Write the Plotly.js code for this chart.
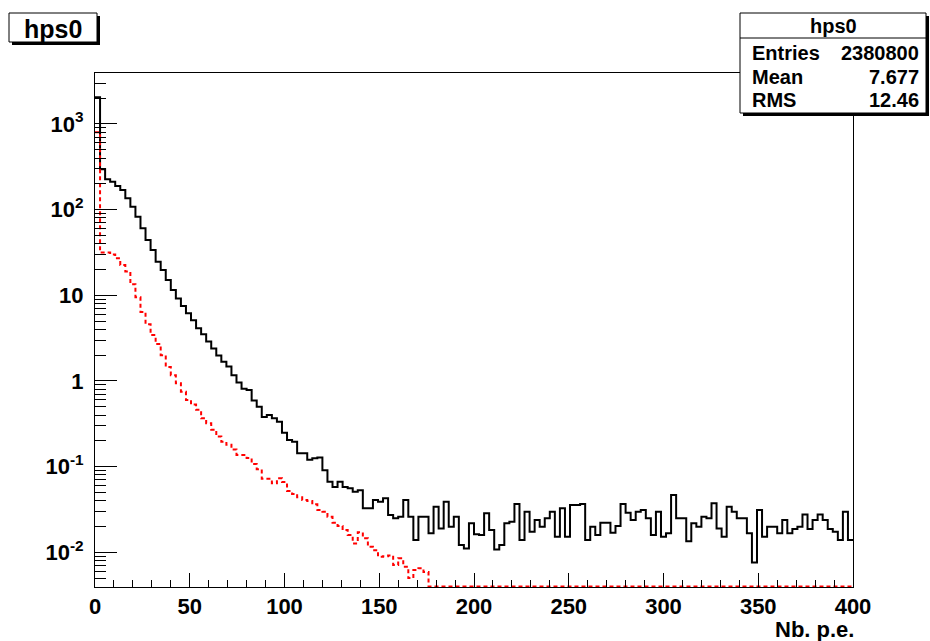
<!DOCTYPE html>
<html>
<head>
<meta charset="utf-8">
<script src="https://cdn.plot.ly/plotly-3.0.1.min.js"></script>
<style>
html,body{margin:0;padding:0;background:#ffffff;}
#chart{width:930px;height:641px;}
</style>
</head>
<body>
<div id="chart"></div>
<script>
// ---------------- data ----------------
const histName = 'hps0';
const xAxisTitle = 'Nb. p.e.';
const nBins = 150;
const xMin = 0;
const xMax = 400;

// black (solid) histogram, bin contents
const blackCounts = [
  2050, 296, 226, 212, 189, 170, 136, 108, 82.8, 60.6,
  44.3, 33.8, 24.7, 19.8, 15.1, 11.5, 9.2, 7.5, 6.17, 5.1,
  4.12, 3.5, 2.88, 2.40, 1.98, 1.68, 1.48, 1.17, 0.96, 0.81,
  0.785, 0.59, 0.50, 0.38, 0.40, 0.366, 0.335, 0.249, 0.205, 0.195,
  0.143, 0.143, 0.12, 0.125, 0.128, 0.091, 0.0667, 0.058, 0.0667, 0.058,
  0.056, 0.051, 0.053, 0.0326, 0.0326, 0.0408, 0.039, 0.0427, 0.0272, 0.0249,
  0.026, 0.0408, 0.026, 0.0139, 0.026, 0.026, 0.0167, 0.034, 0.019, 0.039,
  0.0199, 0.026, 0.0122, 0.0111, 0.0218, 0.0162, 0.0159, 0.0285, 0.0182, 0.0108,
  0.0122, 0.0218, 0.0228, 0.0366, 0.0139, 0.0298, 0.0174, 0.0238, 0.0199, 0.0249,
  0.0298, 0.0152, 0.0326, 0.0152, 0.0356, 0.0356, 0.0366, 0.0139, 0.0199, 0.0159,
  0.0222, 0.0222, 0.0169, 0.0203, 0.0366, 0.029, 0.0238, 0.0298, 0.0312, 0.0249,
  0.0159, 0.0298, 0.0152, 0.0167, 0.0467, 0.0249, 0.0249, 0.0135, 0.0218, 0.0199,
  0.026, 0.0249, 0.0373, 0.019, 0.0152, 0.034, 0.0298, 0.0249, 0.0249, 0.0167,
  0.0076, 0.0312, 0.0152, 0.0199, 0.0199, 0.0167, 0.0238, 0.0167, 0.0187, 0.0199,
  0.0277, 0.0187, 0.0238, 0.0277, 0.0238, 0.0187, 0.0174, 0.0139, 0.0298, 0.0139
];

// red (dashed) histogram, bin contents (0 = empty bin)
const redCounts = [
  800, 31.5, 31.5, 30, 27, 22.6, 19, 13.5, 9.5, 6.4,
  4.6, 3.44, 2.7, 2.0, 1.46, 1.17, 0.94, 0.75, 0.6, 0.53,
  0.46, 0.366, 0.32, 0.27, 0.225, 0.195, 0.18, 0.158, 0.137, 0.137,
  0.126, 0.107, 0.093, 0.072, 0.072, 0.064, 0.073, 0.066, 0.052, 0.048,
  0.0439, 0.0408, 0.0397, 0.0363, 0.0312, 0.0298, 0.026, 0.0222, 0.0203, 0.0182,
  0.0159, 0.0127, 0.0171, 0.0146, 0.0116, 0.0106, 0.0089, 0.009, 0.0092, 0.0071,
  0.0085, 0.0068, 0.005, 0.0062, 0.0065, 0.0059, 0, 0, 0, 0,
  0, 0, 0, 0, 0, 0, 0, 0, 0, 0,
  0, 0, 0, 0, 0, 0, 0, 0, 0, 0,
  0, 0, 0, 0, 0, 0, 0, 0, 0, 0,
  0, 0, 0, 0, 0, 0, 0, 0, 0, 0,
  0, 0, 0, 0, 0, 0, 0, 0, 0, 0,
  0, 0, 0, 0, 0, 0, 0, 0, 0, 0,
  0, 0, 0, 0, 0, 0, 0, 0, 0, 0,
  0, 0, 0, 0, 0, 0, 0, 0, 0, 0
];

const statLabels = ['Entries', 'Mean', 'RMS'];
const statValues = ['2380800', '7.677', '12.46'];

const xTickVals = [0, 50, 100, 150, 200, 250, 300, 350, 400];
const xTickText = ['0', '50', '100', '150', '200', '250', '300', '350', '400'];
const yTickVals = [0.01, 0.1, 1, 10, 100, 1000];
const yTickText = ['10<sup>-2</sup>', '10<sup>-1</sup>', '1', '10', '10<sup>2</sup>', '10<sup>3</sup>'];

// ---------------- geometry ----------------
const W = 930, H = 641;
const PL = 95, PR = 853, PT = 73, PB = 587;
const yLogRange = [-2.405, 3.595];
const FONT = 'Liberation Sans, Arial, Helvetica, sans-serif';

function px2x(px) { return (px - PL) / (PR - PL); }
function py2y(py) { return (PB - py) / (PB - PT); }

const binW = (xMax - xMin) / nBins;
function stepXY(counts, floorVal) {
  const xs = [], ys = [];
  for (let i = 0; i < counts.length; i++) {
    xs.push(xMin + i * binW);
    ys.push(counts[i] > 0 ? counts[i] : floorVal);
  }
  xs.push(xMax);
  ys.push(counts[counts.length - 1] > 0 ? counts[counts.length - 1] : floorVal);
  return {xs, ys};
}
const floorVal = Math.pow(10, yLogRange[0] + 0.006);
const blk = stepXY(blackCounts, floorVal);
const red = stepXY(redCounts, floorVal);

const traces = [
  {x: blk.xs, y: blk.ys, type: 'scatter', mode: 'lines',
   line: {shape: 'hv', color: '#000000', width: 2}, hoverinfo: 'skip'},
  {x: red.xs, y: red.ys, type: 'scatter', mode: 'lines',
   line: {shape: 'hv', color: '#ff0000', width: 2, dash: '4px,3px'}, hoverinfo: 'skip'}
];

// minor ticks for the log axis
const yMinor = [];
for (let d = -3; d <= 3; d++) for (let m = 2; m <= 9; m++) yMinor.push(m * Math.pow(10, d));

const tickFont = {family: FONT, size: 22, color: '#000', weight: 'bold'};

function rectPx(x0, y0, x1, y1, opts) {
  return Object.assign({type: 'rect', xref: 'paper', yref: 'paper', layer: 'above',
    x0: px2x(x0), x1: px2x(x1), y0: py2y(y1), y1: py2y(y0)}, opts);
}
function linePx(x0, y0, x1, y1) {
  return {type: 'line', xref: 'paper', yref: 'paper', layer: 'above',
    x0: px2x(x0), x1: px2x(x1), y0: py2y(y0), y1: py2y(y1), line: {color: '#000', width: 1}};
}

// title box & stats box (pixels)
const tb = {x0: 9, y0: 13, x1: 97, y1: 42};
const sb = {x0: 740, y0: 13, x1: 926, y1: 113, div: 38};

const shapes = [
  rectPx(tb.x0 + 3, tb.y0 + 3, tb.x1 + 3, tb.y1 + 3, {fillcolor: '#000', line: {width: 0}}),
  rectPx(tb.x0, tb.y0, tb.x1, tb.y1, {fillcolor: '#fff', line: {color: '#000', width: 1}}),
  rectPx(sb.x0 + 3, sb.y0 + 3, sb.x1 + 3, sb.y1 + 3, {fillcolor: '#000', line: {width: 0}}),
  rectPx(sb.x0, sb.y0, sb.x1, sb.y1, {fillcolor: '#fff', line: {color: '#000', width: 1}}),
  linePx(sb.x0, sb.div, sb.x1, sb.div)
];

const statFont = {family: FONT, size: 20, color: '#000', weight: 'bold'};
const annotations = [
  {xref: 'paper', yref: 'paper', x: px2x((tb.x0 + tb.x1) / 2), y: py2y((tb.y0 + tb.y1) / 2 + 1),
   xanchor: 'center', yanchor: 'middle', showarrow: false, text: histName,
   font: {family: FONT, size: 25, color: '#000', weight: 'bold'}},
  {xref: 'paper', yref: 'paper', x: px2x((sb.x0 + sb.x1) / 2), y: py2y((sb.y0 + sb.div) / 2),
   xanchor: 'center', yanchor: 'middle', showarrow: false, text: histName, font: statFont},
  {xref: 'paper', yref: 'paper', x: px2x(856), y: py2y(629),
   xanchor: 'right', yanchor: 'middle', showarrow: false, text: xAxisTitle,
   font: {family: FONT, size: 22, color: '#000', weight: 'bold'}}
];
const rowCenters = [53, 77, 100];
statLabels.forEach((lab, i) => {
  annotations.push({xref: 'paper', yref: 'paper', x: px2x(750), y: py2y(rowCenters[i]),
    xanchor: 'left', yanchor: 'middle', showarrow: false, text: lab, font: statFont});
  annotations.push({xref: 'paper', yref: 'paper', x: px2x(921), y: py2y(rowCenters[i]),
    xanchor: 'right', yanchor: 'middle', showarrow: false, text: statValues[i], font: statFont});
});

const layout = {
  width: W, height: H,
  margin: {l: PL, r: W - PR, t: PT, b: H - PB, pad: 0},
  paper_bgcolor: '#ffffff', plot_bgcolor: '#ffffff',
  showlegend: false,
  xaxis: {
    range: [xMin, xMax], showgrid: false, zeroline: false,
    showline: true, mirror: true, linecolor: '#000', linewidth: 1,
    tickmode: 'array', tickvals: xTickVals, ticktext: xTickText,
    ticks: 'inside', ticklen: 14, tickwidth: 1, tickcolor: '#000',
    minor: {tickmode: 'linear', tick0: 0, dtick: 10, ticks: 'inside', ticklen: 7, tickwidth: 1, tickcolor: '#000'},
    tickfont: tickFont, ticklabelstandoff: 0
  },
  yaxis: {
    type: 'log', range: yLogRange, showgrid: false, zeroline: false,
    showline: true, mirror: true, linecolor: '#000', linewidth: 1,
    tickmode: 'array', tickvals: yTickVals, ticktext: yTickText,
    ticks: 'inside', ticklen: 22, tickwidth: 1, tickcolor: '#000',
    minor: {tickmode: 'array', tickvals: yMinor, ticks: 'inside', ticklen: 11, tickwidth: 1, tickcolor: '#000'},
    tickfont: tickFont, ticklabelstandoff: 6
  },
  shapes: shapes,
  annotations: annotations
};

Plotly.newPlot('chart', traces, layout, {staticPlot: true, displayModeBar: false});
</script>
</body>
</html>
